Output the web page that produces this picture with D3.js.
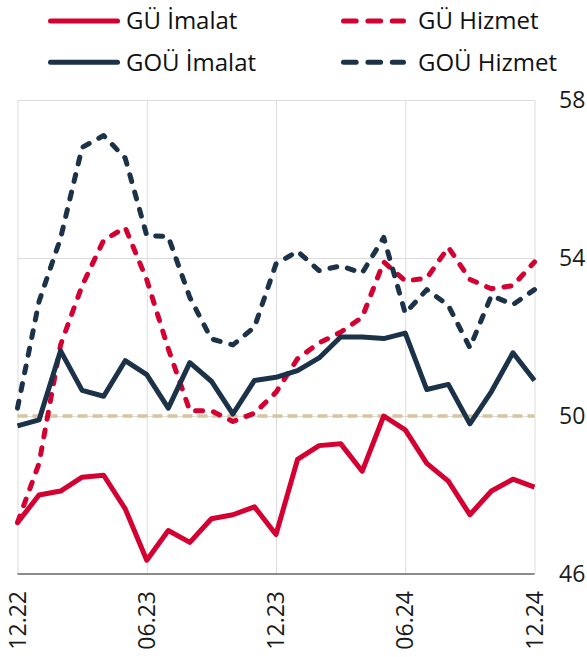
<!DOCTYPE html>
<html>
<head>
<meta charset="utf-8">
<script src="https://cdn.jsdelivr.net/npm/d3@7"></script>
<style>
  body { margin: 0; background: #fff; }
  svg { display: block; font-family: "Open Sans", sans-serif; }
</style>
</head>
<body>
<svg class="chart"></svg>
<script>
// months 12.22 .. 12.24
var months = d3.range(25);
var tickIdx = [0, 6, 12, 18, 24];
var tickLabels = ["12.22", "06.23", "12.23", "06.24", "12.24"];
var yTicks = [46, 50, 54, 58];

var guImalat = [47.3, 48.0, 48.1, 48.45, 48.5, 47.65, 46.35, 47.1, 46.8, 47.4, 47.5, 47.7, 47.0,
  48.9, 49.25, 49.3, 48.6, 50.0, 49.65, 48.8, 48.35, 47.5, 48.1, 48.4, 48.2];
var gouImalat = [49.75, 49.9, 51.65, 50.65, 50.5, 51.4, 51.05, 50.2, 51.35, 50.88, 50.05, 50.9, 50.98,
  51.15, 51.47, 52.0, 52.0, 51.96, 52.1, 50.67, 50.8, 49.8, 50.62, 51.6, 50.9];
var guHizmet = [47.3, 48.8, 51.8, 53.3, 54.45, 54.77, 53.45, 51.7, 50.13, 50.13, 49.86, 50.07, 50.6,
  51.45, 51.85, 52.12, 52.5, 53.9, 53.42, 53.49, 54.27, 53.46, 53.22, 53.3, 53.9];
var gouHizmet = [50.2, 52.9, 54.5, 56.8, 57.1, 56.53, 54.57, 54.54, 53.0, 51.95, 51.8, 52.25, 53.85,
  54.17, 53.68, 53.8, 53.62, 54.52, 52.6, 53.2, 52.8, 51.73, 53.05, 52.82, 53.2];

var red = "#d50032", navy = "#1c3249", tan = "#d8c49f";

var series = [
  {name: "GÜ İmalat", values: guImalat, color: red, dash: null, lx: 48, ly: 21},
  {name: "GÜ Hizmet", values: guHizmet, color: red, dash: "7,11", lx: 341, ly: 21},
  {name: "GOÜ İmalat", values: gouImalat, color: navy, dash: null, lx: 48, ly: 62.3},
  {name: "GOÜ Hizmet", values: gouHizmet, color: navy, dash: "7,11", lx: 341, ly: 62.3}
];

var W = 587, H = 657;
var svg = d3.select(".chart").attr("width", W).attr("height", H);

var x = d3.scaleLinear().domain([0, 24]).range([17.5, 534.5]);
var y = d3.scaleLinear().domain([46, 58]).range([574, 100]);

// grid
svg.append("g")
  .attr("transform", "translate(0,574)")
  .call(d3.axisBottom(x).tickValues(tickIdx).tickSize(-474).tickFormat(""))
  .call(function(g) {
    g.select(".domain").remove();
    g.selectAll("line").attr("stroke", "#dcdcdc").attr("stroke-width", 1);
  });
svg.append("g")
  .attr("transform", "translate(17.5,0)")
  .call(d3.axisLeft(y).tickValues(yTicks).tickSize(-517).tickFormat(""))
  .call(function(g) {
    g.select(".domain").remove();
    g.selectAll("line").attr("stroke", "#dcdcdc").attr("stroke-width", 1);
  });

// 50 line
svg.append("line")
  .attr("x1", x(0)).attr("x2", x(24))
  .attr("y1", y(50)).attr("y2", y(50))
  .attr("stroke", tan).attr("stroke-width", 3.5)
  .attr("stroke-dasharray", "10,5");

// bottom axis line
svg.append("line")
  .attr("x1", x(0)).attr("x2", x(24))
  .attr("y1", y(46)).attr("y2", y(46))
  .attr("stroke", "#8c8c8c").attr("stroke-width", 2);

var line = d3.line()
  .x(function(d, i) { return x(months[i]); })
  .y(function(d) { return y(d); });

var order = [series[1], series[3], series[2], series[0]];
svg.append("g").selectAll("path")
  .data(order)
  .enter()
  .append("path")
  .attr("d", function(d) { return line(d.values); })
  .attr("fill", "none")
  .attr("stroke", function(d) { return d.color; })
  .attr("stroke-width", 5)
  .attr("stroke-linejoin", "round")
  .attr("stroke-linecap", function(d) { return d.dash ? "round" : "butt"; })
  .attr("stroke-dasharray", function(d) { return d.dash; });

// right y labels
svg.append("g")
  .attr("transform", "translate(559,0)")
  .call(d3.axisRight(y).tickValues(yTicks).tickSize(0).tickPadding(0))
  .call(function(g) {
    g.select(".domain").remove();
    g.selectAll("text").attr("font-size", 23).attr("fill", "#1a1a1a")
      .attr("font-family", "Open Sans, sans-serif").attr("text-anchor", "start");
  });

// x labels
svg.append("g").selectAll("text")
  .data(tickIdx)
  .enter()
  .append("text")
  .attr("transform", function(d) { return "translate(" + x(d) + ",591) rotate(-90)"; })
  .attr("text-anchor", "end")
  .attr("dy", "0.35em")
  .attr("font-size", 23)
  .attr("fill", "#1a1a1a")
  .text(function(d, i) { return tickLabels[i]; });

// legend
var lg = svg.append("g").selectAll("g")
  .data(series)
  .enter()
  .append("g");
lg.append("line")
  .attr("x1", function(d) { return d.lx + 2.5; })
  .attr("x2", function(d) { return d.dash ? d.lx + 62.5 : d.lx + 69.5; })
  .attr("y1", function(d) { return d.ly; })
  .attr("y2", function(d) { return d.ly; })
  .attr("stroke", function(d) { return d.color; })
  .attr("stroke-width", 5)
  .attr("stroke-linecap", "round")
  .attr("stroke-dasharray", function(d) { return d.dash ? "12.7,11.7" : null; });
lg.append("text")
  .attr("x", function(d) { return d.dash ? d.lx + 77 : d.lx + 78; })
  .attr("y", function(d) { return d.ly; })
  .attr("dy", "0.35em")
  .attr("font-size", 24)
  .attr("fill", "#111")
  .text(function(d) { return d.name; });
</script>
</body>
</html>
